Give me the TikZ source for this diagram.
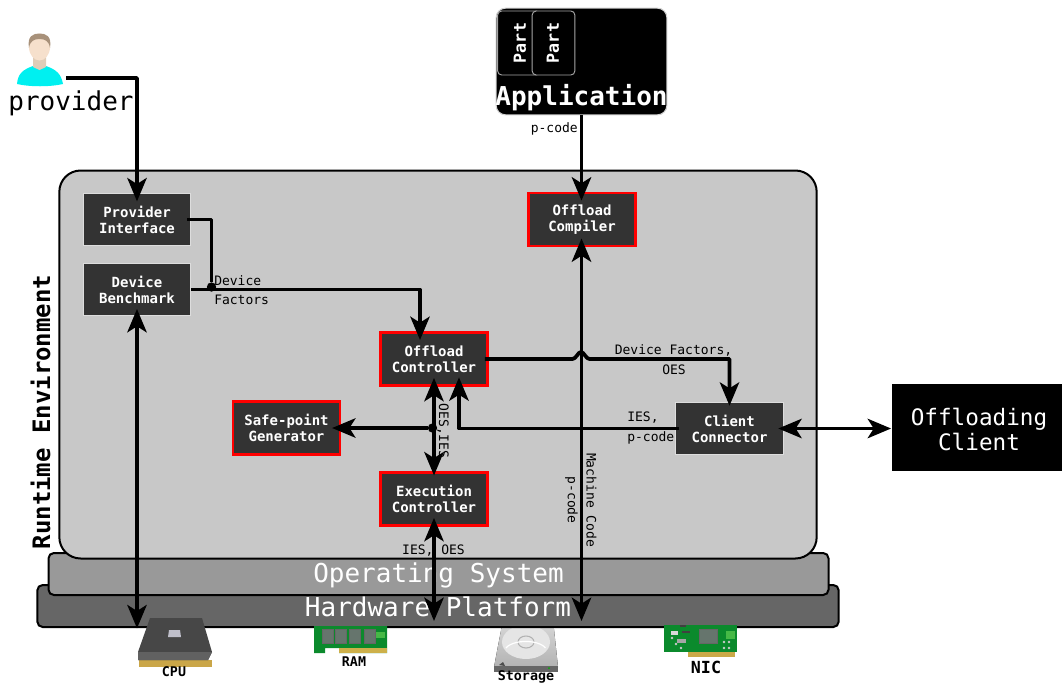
\documentclass[tikz,border=0pt]{standalone}
\usepackage{fontspec}
\setmonofont{DejaVu Sans Mono}
\setmainfont{DejaVu Sans Mono}
\usetikzlibrary{arrows.meta,calc}
\definecolor{boxfill}{HTML}{333333}
\definecolor{boxedge}{HTML}{DDDDDD}
\definecolor{envfill}{HTML}{C8C8C8}
\definecolor{osfill}{HTML}{999999}
\definecolor{hwfill}{HTML}{666666}
\definecolor{pcbgreen}{HTML}{0B8A2C}
\definecolor{chipgrey}{HTML}{66756D}
\definecolor{goldpin}{HTML}{CDB04A}
\definecolor{shirt}{HTML}{00F0F0}
\definecolor{skin}{HTML}{F6E0CC}
\definecolor{neck}{HTML}{E0CDB8}
\definecolor{hair}{HTML}{A8917A}
\tikzset{
  x=0.75pt,y=-0.75pt,
  >={Stealth[length=17.5pt,width=14.5pt,inset=4.5pt]},
  textdrop/.style={execute at begin node={\rule{0pt}{#1}}},
  unit/.style={rectangle,minimum width=80.5pt,minimum height=39.5pt,inner sep=0pt,fill=boxfill,text=white,align=center,font=\fontsize{10.5}{12}\selectfont\bfseries},
  plainunit/.style={unit,draw=boxedge,line width=0.7pt},
  redunit/.style={unit,draw=red,line width=1.9pt,textdrop=10.9pt},
  layer/.style={rectangle,draw=black,line width=1.5pt,rounded corners=4pt,inner sep=0pt,text=white,font=\fontsize{19.5}{22}\selectfont,textdrop=16.5pt},
  wire/.style={draw=black,line width=2.8pt,line join=round},
  lbl/.style={inner sep=0pt,text=black,font=\fontsize{9.75}{12}\selectfont},
  dot/.style={circle,fill=black,minimum size=7pt,inner sep=0pt},
  hwlabel/.style={inner sep=0pt,text=black,font=\fontsize{10}{12}\selectfont\bfseries},
  partbox/.style={rectangle,draw=gray!70,line width=0.7pt,rounded corners=3pt,fill=black,minimum width=32pt,minimum height=48pt,inner sep=0pt},
  parttext/.style={inner sep=0pt,text=white,rotate=90,font=\fontsize{12.5}{14}\selectfont\bfseries},
}
\begin{document}
\begin{tikzpicture}
\useasboundingbox (0,0) rectangle (1062,682);
% storage icon (under the hardware layer)
\fill[top color=gray!30,bottom color=gray!60] (503,620) -- (553,620) -- (558,667) -- (494,667) -- cycle;
\fill[black!60] (494,666) rectangle (558,672);
\fill[gray!20] (526,642) ellipse (24 and 17);
\draw[gray!60,line width=0.8pt] (526,642) ellipse (8 and 6);
\draw[white,line width=0.9pt] (506,648) arc[start angle=200,end angle=340,x radius=21,y radius=10];
\fill[black!70] (499,665) -- (503,662) -- (505,666) -- cycle;
\fill[green!70!black] (549,668) circle (1);
% layers
\node[layer,fill=hwfill,minimum width=601pt,minimum height=31.5pt] (hw) at (438,606) {Hardware Platform};
\node[layer,fill=osfill,minimum width=585pt,minimum height=31.5pt] (os) at (438.5,574) {Operating System};
\node[rectangle,draw=black,line width=1.5pt,rounded corners=16pt,fill=envfill,minimum width=568pt,minimum height=291pt,inner sep=0pt] (env) at (438,364.5) {};
\node[inner sep=0pt,rotate=90,font=\fontsize{18}{20}\selectfont\bfseries] (envlabel) at (40.5,412) {Runtime Environment};
% CPU icon
\fill[goldpin!80!brown] (139,660) rectangle (212,667);
\fill[black!72] (150,618) -- (202,618) -- (212,652) -- (208,660) -- (138,660) -- (138,652) -- cycle;
\fill[black!62] (138,652) -- (212,652) -- (208,660) -- (138,660) -- cycle;
\fill[blue!10!gray!45] (169,630) -- (180,630) -- (181,637) -- (168,637) -- cycle;
\node[coordinate] (cpu) at (137,627) {};
% RAM icon
\fill[pcbgreen] (314,626) -- (387,626) -- (387,653) -- (339,653) -- (339,648) -- (325,648) -- (325,653) -- (314,653) -- cycle;
\foreach \cx in {322,335,349,364}{\fill[chipgrey,draw=black!60,line width=0.4pt] (\cx,629) rectangle +(11,14);}
\fill[goldpin] (339,648) rectangle (387,653);
\fill[green!45!gray] (376,632) rectangle (385,638);
\node[coordinate] (ram) at (434,627) {};
% NIC icon
\fill[pcbgreen] (664,625) rectangle (737,652);
\fill[goldpin!85!brown] (688,652) rectangle (735,657);
\fill[chipgrey,draw=black!60,line width=0.4pt] (699,629) rectangle (717,643);
\fill[green!45!gray] (726,631) rectangle (735,639);
\fill[white!85!black] (671,631) rectangle (678,635);
\fill[black!75] (680,625) rectangle (686,627);
\fill[black!75] (682,631) rectangle (690,633);
\fill[gray!70] (677,639) rectangle (686,643);
\foreach \hx/\hy in {672/638,676/644,681/648,724/642,729/642,724/648,729/648}{\fill[gray!40] (\hx,\hy) circle (1.4);}
\node[coordinate] (storage) at (581.5,627) {};
% device labels
\node[hwlabel] (cpulabel) at (174,672) {CPU};
\node[hwlabel] (ramlabel) at (354,662) {RAM};
\node[hwlabel] (storagelabel) at (526,677) {Storage};
\node[hwlabel,font=\fontsize{12.5}{14}\selectfont\bfseries] (niclabel) at (706,667) {NIC};
% user icon
\fill[shirt] (17,84) .. controls (18,74) and (22,70) .. (33,66) -- (46,66) .. controls (57,70) and (61,74) .. (63,84) .. controls (50,87) and (30,87) .. (17,84) -- cycle;
\fill[neck] (33,56) -- (46,56) -- (46,67) -- (39.5,70) -- (33,67) -- cycle;
\fill[skin] (39.5,47) ellipse (10.5 and 13.5);
\fill[hair] (29,48) .. controls (27,36) and (33,33.5) .. (39.5,33.5) .. controls (46,33.5) and (52,36) .. (50,48) .. controls (49,41) and (45,39) .. (39.5,39) .. controls (34,39) and (30,41) .. (29,48) -- cycle;
\node[coordinate] (user) at (66,78) {};
\node[inner sep=0pt,font=\fontsize{19.5}{22}\selectfont] (userlabel) at (71,103) {provider};
% application
\node[rectangle,draw=gray!35,line width=0.8pt,rounded corners=7pt,fill=black,minimum width=128pt,minimum height=80pt,inner sep=0pt] (app) at (581.5,61.5) {};
\node[partbox,minimum width=32pt] (part1) at (519,43) {};
\node[partbox] (part2) at (553.5,43) {};
\node[parttext] (part1t) at (520,43) {Part};
\node[parttext] (part2t) at (553,43) {Part};
\node[inner sep=0pt,text=white,font=\fontsize{19.5}{22}\selectfont\bfseries] (applabel) at (581.5,98) {Application};
% offloading client
\node[rectangle,fill=black,minimum width=127.5pt,minimum height=65pt,inner sep=0pt] (client) at (977,427.5) {};
\node[inner sep=0pt,text=white,align=center,font=\fontsize{17}{19}\selectfont] (clienttext) at (979,429.5) {Offloading\\Client};
% units
\node[plainunit] (pi) at (137,219.5) {Provider\\Interface};
\node[plainunit] (db) at (137,289.5) {Device\\Benchmark};
\node[redunit,textdrop=12.4pt] (ocomp) at (582,219.5) {Offload\\Compiler};
\node[redunit] (octrl) at (434,359) {Offload\\Controller};
\node[redunit] (sp) at (286.5,428) {Safe-point\\Generator};
\node[redunit] (ectrl) at (434,499) {Execution\\Controller};
\node[plainunit] (cc) at (729.5,428.5) {Client\\Connector};
% junctions and bends
\node[dot] (j1) at (211.5,287) {};
\node[dot] (j2) at (432.5,428) {};
\coordinate (ocin) at (420,332);
\coordinate (ocin2) at (459,386);
\coordinate (hopa) at (572.5,359);
\coordinate (hoptop) at (581,352);
\coordinate (hopb) at (589.5,359);
% connectors
\draw[wire,->,shorten >=-6.5pt] (user) -| (pi.north);
\draw[wire,shorten <=-3pt] (pi.east) -| (j1);
\draw[wire,->,shorten >=-6pt] (db.east) -| (ocin);
\draw[wire,<->,shorten <=-5.5pt,shorten >=-1pt] (db.south) -- (db.south |- cpu);
\draw[wire,->,shorten >=-6.5pt] (app.south) -- (app.south |- ocomp.north);
\draw[wire,<->,shorten <=-6.5pt,shorten >=4.5pt] (ocomp.south -| storage) -- (storage);
\draw[wire,->,shorten >=-3pt,shorten <=-3pt] (octrl.east) -- (hopa) .. controls (576,359) and (578,352) .. (hoptop) .. controls (584,352) and (586,359) .. (hopb) -| (cc.north);
\draw[wire,->,shorten >=-6.5pt,shorten <=-3pt] (cc.west) -| (ocin2);
\draw[wire,<->,shorten <=-6.5pt,shorten >=-3pt] (octrl.south) -- (ectrl.north);
\draw[wire,->,shorten >=-7pt] (j2) -- (sp.east);
\draw[wire,<->,shorten <=-6.5pt,shorten >=4.5pt] (ectrl.south) -- (ram);
\draw[wire,<->,shorten <=-4pt,shorten >=0.5pt] (cc.east) -- (cc.east -| client.west);
% connector labels
\node[lbl,anchor=west] (l1) at (214,280.5) {Device};
\node[lbl,anchor=west] (l2) at (214,300) {Factors};
\node[lbl,anchor=east] (l3) at (578,129) {p-code};
\node[lbl] (l4) at (673.5,350) {Device Factors,};
\node[lbl] (l5) at (674,370) {OES};
\node[lbl,anchor=west] (l6) at (627,418) {IES,};
\node[lbl,anchor=west] (l7) at (627,438) {p-code};
\node[lbl,rotate=-90] (l8) at (443,431) {OES,IES};
\node[lbl] (l9) at (433.5,551) {IES, OES};
\node[lbl,rotate=-90] (l10) at (591.5,500) {Machine Code};
\node[lbl,rotate=-90] (l11) at (571.5,500) {p-code};
\end{tikzpicture}
\end{document}
